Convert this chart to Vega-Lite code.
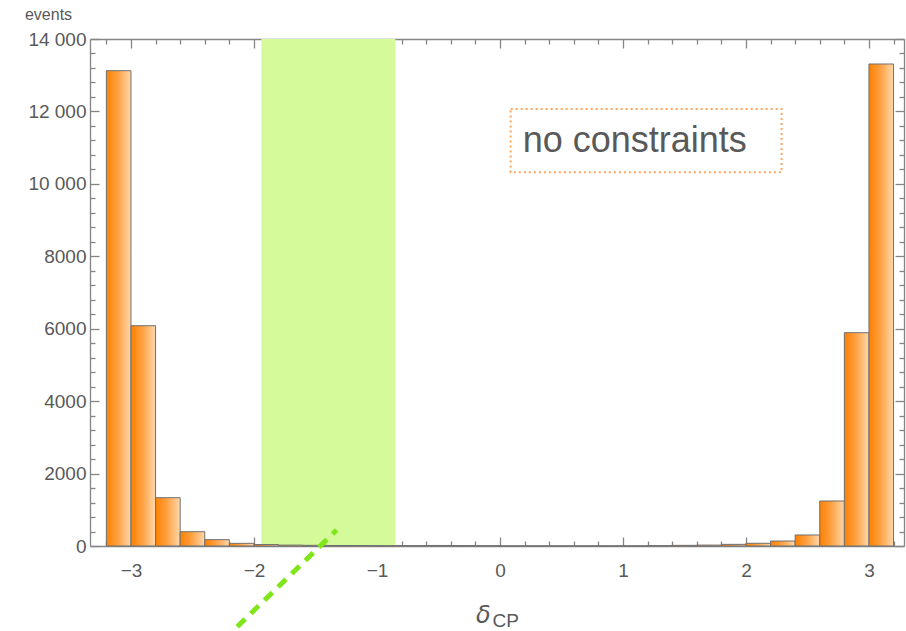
{
  "$schema": "https://vega.github.io/schema/vega-lite/v6.json",
  "width": 814,
  "height": 507,
  "autosize": {"type": "none"},
  "padding": {"left": 90, "top": 39, "right": 2, "bottom": 85},
  "background": "white",
  "datasets": {
    "bars": [
      {"lo": -3.2, "hi": -3.0, "count": 13125},
      {"lo": -3.0, "hi": -2.8, "count": 6083},
      {"lo": -2.8, "hi": -2.6, "count": 1334},
      {"lo": -2.6, "hi": -2.4, "count": 395},
      {"lo": -2.4, "hi": -2.2, "count": 175},
      {"lo": -2.2, "hi": -2.0, "count": 74},
      {"lo": -2.0, "hi": -1.8, "count": 40},
      {"lo": -1.8, "hi": -1.6, "count": 25},
      {"lo": -1.6, "hi": -1.4, "count": 18},
      {"lo": -1.4, "hi": -1.2, "count": 14},
      {"lo": -1.2, "hi": -1.0, "count": 12},
      {"lo": -1.0, "hi": -0.8, "count": 10},
      {"lo": -0.8, "hi": -0.6, "count": 10},
      {"lo": -0.6, "hi": -0.4, "count": 15},
      {"lo": -0.4, "hi": -0.2, "count": 12},
      {"lo": -0.2, "hi": 0.0, "count": 8},
      {"lo": 0.0, "hi": 0.2, "count": 5},
      {"lo": 0.2, "hi": 0.4, "count": 4},
      {"lo": 0.4, "hi": 0.6, "count": 4},
      {"lo": 0.6, "hi": 0.8, "count": 4},
      {"lo": 0.8, "hi": 1.0, "count": 5},
      {"lo": 1.0, "hi": 1.2, "count": 6},
      {"lo": 1.2, "hi": 1.4, "count": 10},
      {"lo": 1.4, "hi": 1.6, "count": 18},
      {"lo": 1.6, "hi": 1.8, "count": 25},
      {"lo": 1.8, "hi": 2.0, "count": 45},
      {"lo": 2.0, "hi": 2.2, "count": 75},
      {"lo": 2.2, "hi": 2.4, "count": 138},
      {"lo": 2.4, "hi": 2.6, "count": 304},
      {"lo": 2.6, "hi": 2.8, "count": 1243},
      {"lo": 2.8, "hi": 3.0, "count": 5890},
      {"lo": 3.0, "hi": 3.2, "count": 13310}
    ],
    "band": [{"lo": -1.94, "hi": -0.85, "ylo": 0, "yhi": 14000}],
    "line": [{"x1": -2.136, "y1": -2228, "x2": -1.328, "y2": 442}],
    "box": [{"x1": 0.087, "x2": 2.29, "y1": 10319, "y2": 12067, "tx": 0.185, "ty": 10880, "label": "no constraints"}],
    "delta": [{"x": -0.195, "y": -2126, "t": "δ"}],
    "sub": [{"x": -0.06, "y": -2225, "t": "CP"}]
  },
  "layer": [
    {
      "data": {"name": "band"},
      "mark": {"type": "rect", "color": "#d4fa9a"},
      "encoding": {
        "x": {
          "field": "lo", "type": "quantitative",
          "scale": {"domain": [-3.333, 3.285], "nice": false, "zero": false},
          "axis": {
            "orient": "bottom",
            "title": null,
            "values": [-3.2, -3, -2.8, -2.6, -2.4, -2.2, -2, -1.8, -1.6, -1.4, -1.2, -1, -0.8, -0.6, -0.4, -0.2, 0, 0.2, 0.4, 0.6, 0.8, 1, 1.2, 1.4, 1.6, 1.8, 2, 2.2, 2.4, 2.6, 2.8, 3, 3.2],
            "labelExpr": "abs(datum.value - round(datum.value)) < 0.01 ? format(round(datum.value), 'd') : ''",
            "tickSize": {"condition": {"test": "abs(datum.value - round(datum.value)) < 0.01", "value": -9}, "value": -5},
            "labelPadding": 24,
            "labelOverlap": false,
            "labelFlush": false
          }
        },
        "x2": {"field": "hi"},
        "y": {
          "field": "ylo", "type": "quantitative",
          "scale": {"domain": [0, 14000], "nice": false},
          "axis": {
            "orient": "left",
            "title": "events",
            "titleAngle": 0,
            "titleAlign": "center",
            "titleBaseline": "alphabetic",
            "titleX": -42,
            "titleY": -20,
            "titleFont": "Liberation Sans",
            "titleFontSize": 16,
            "titleFontWeight": "normal",
            "titleColor": "#595959",
            "values": [0, 400, 800, 1200, 1600, 2000, 2400, 2800, 3200, 3600, 4000, 4400, 4800, 5200, 5600, 6000, 6400, 6800, 7200, 7600, 8000, 8400, 8800, 9200, 9600, 10000, 10400, 10800, 11200, 11600, 12000, 12400, 12800, 13200, 13600, 14000],
            "labelExpr": "datum.value % 2000 === 0 ? (datum.value >= 10000 ? replace(format(datum.value, ','), ',', ' ') : format(datum.value, 'd')) : ''",
            "tickSize": {"condition": {"test": "datum.value % 2000 === 0", "value": -9}, "value": -5},
            "labelPadding": 13,
            "labelOverlap": false,
            "labelFlush": false
          }
        },
        "y2": {"field": "yhi"}
      }
    },
    {
      "data": {"name": "bars"},
      "mark": {
        "type": "bar",
        "fill": {
          "gradient": "linear", "x1": 0, "y1": 0, "x2": 1, "y2": 0,
          "stops": [
            {"offset": 0, "color": "#ff8000"},
            {"offset": 0.45, "color": "#ffa040"},
            {"offset": 1, "color": "#ffd8ac"}
          ]
        },
        "stroke": "#707070",
        "strokeWidth": 1
      },
      "encoding": {
        "x": {
          "field": "lo", "type": "quantitative",
          "scale": {"domain": [-3.333, 3.285], "nice": false, "zero": false},
          "axis": {
            "orient": "top",
            "title": null,
            "labels": false,
            "values": [-3.2, -3, -2.8, -2.6, -2.4, -2.2, -2, -1.8, -1.6, -1.4, -1.2, -1, -0.8, -0.6, -0.4, -0.2, 0, 0.2, 0.4, 0.6, 0.8, 1, 1.2, 1.4, 1.6, 1.8, 2, 2.2, 2.4, 2.6, 2.8, 3, 3.2],
            "tickSize": {"condition": {"test": "abs(datum.value - round(datum.value)) < 0.01", "value": -9}, "value": -5}
          }
        },
        "x2": {"field": "hi"},
        "y": {
          "field": "count", "type": "quantitative",
          "scale": {"domain": [0, 14000], "nice": false},
          "axis": {
            "orient": "right",
            "title": null,
            "labels": false,
            "values": [0, 400, 800, 1200, 1600, 2000, 2400, 2800, 3200, 3600, 4000, 4400, 4800, 5200, 5600, 6000, 6400, 6800, 7200, 7600, 8000, 8400, 8800, 9200, 9600, 10000, 10400, 10800, 11200, 11600, 12000, 12400, 12800, 13200, 13600, 14000],
            "tickSize": {"condition": {"test": "datum.value % 2000 === 0", "value": -9}, "value": -5}
          }
        },
        "y2": {"datum": 0}
      }
    },
    {
      "data": {"name": "box"},
      "mark": {"type": "rect", "filled": false, "stroke": "#ffa65c", "strokeWidth": 2, "strokeDash": [2, 3]},
      "encoding": {
        "x": {"field": "x1", "type": "quantitative", "scale": {"domain": [-3.333, 3.285], "nice": false, "zero": false}, "axis": null},
        "x2": {"field": "x2"},
        "y": {"field": "y1", "type": "quantitative", "scale": {"domain": [0, 14000], "nice": false}, "axis": null},
        "y2": {"field": "y2"}
      }
    },
    {
      "data": {"name": "box"},
      "mark": {"type": "text", "align": "left", "baseline": "alphabetic", "font": "Liberation Sans", "fontSize": 36, "color": "#595959"},
      "encoding": {
        "x": {"field": "tx", "type": "quantitative", "scale": {"domain": [-3.333, 3.285], "nice": false, "zero": false}, "axis": null},
        "y": {"field": "ty", "type": "quantitative", "scale": {"domain": [0, 14000], "nice": false}, "axis": null},
        "text": {"field": "label"}
      }
    },
    {
      "data": {"name": "line"},
      "mark": {"type": "rule", "color": "#80e619", "strokeWidth": 5, "strokeDash": [11, 8], "clip": false},
      "encoding": {
        "x": {"field": "x1", "type": "quantitative", "scale": {"domain": [-3.333, 3.285], "nice": false, "zero": false}, "axis": null},
        "x2": {"field": "x2"},
        "y": {"field": "y1", "type": "quantitative", "scale": {"domain": [0, 14000], "nice": false}, "axis": null},
        "y2": {"field": "y2"}
      }
    },
    {
      "data": {"name": "delta"},
      "mark": {"type": "text", "align": "left", "baseline": "alphabetic", "font": "DejaVu Sans", "fontStyle": "italic", "fontSize": 24, "color": "#595959"},
      "encoding": {
        "x": {"field": "x", "type": "quantitative", "scale": {"domain": [-3.333, 3.285], "nice": false, "zero": false}, "axis": null},
        "y": {"field": "y", "type": "quantitative", "scale": {"domain": [0, 14000], "nice": false}, "axis": null},
        "text": {"field": "t"}
      }
    },
    {
      "data": {"name": "sub"},
      "mark": {"type": "text", "align": "left", "baseline": "alphabetic", "font": "Liberation Sans", "fontSize": 19, "color": "#595959"},
      "encoding": {
        "x": {"field": "x", "type": "quantitative", "scale": {"domain": [-3.333, 3.285], "nice": false, "zero": false}, "axis": null},
        "y": {"field": "y", "type": "quantitative", "scale": {"domain": [0, 14000], "nice": false}, "axis": null},
        "text": {"field": "t"}
      }
    }
  ],
  "resolve": {"axis": {"x": "independent", "y": "independent"}},
  "config": {
    "view": {"stroke": null},
    "axis": {
      "domainColor": "#858585",
      "tickColor": "#858585",
      "domainWidth": 1.3,
      "tickWidth": 1.3,
      "labelFont": "Liberation Sans",
      "labelFontSize": 19,
      "labelColor": "#595959",
      "grid": false,
      "zindex": 1
    }
  }
}
